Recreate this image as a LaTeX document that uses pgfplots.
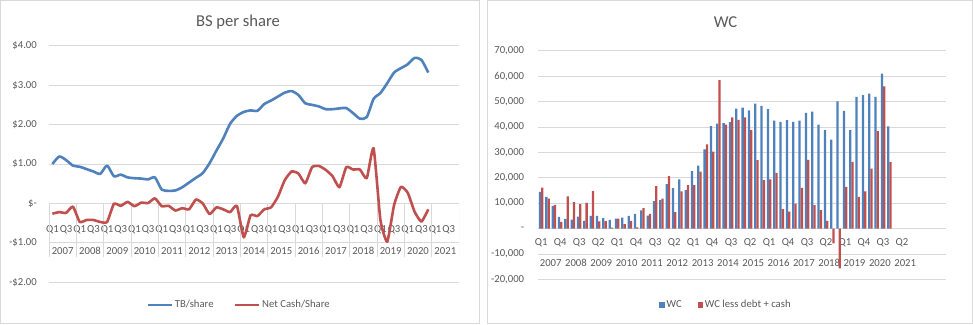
\documentclass[border=0pt]{standalone}
\usepackage{fontspec}
\setmainfont{Carlito}
\usepackage{pgfplots}
\usepackage{pgfplotstable}
\pgfplotsset{compat=1.18}
\definecolor{xblue}{HTML}{4F81BD}
\definecolor{xred}{HTML}{C0504D}
\definecolor{xgrid}{HTML}{D9D9D9}
\definecolor{xtext}{HTML}{595959}
\newcommand\tk{\fontsize{10.7bp}{12bp}\selectfont}

\pgfplotstableread{
i tb nc wc wcl
0 1.00 -0.26 14400 16100
1 1.19 -0.22 12500 11800
2 1.10 -0.24 8900 9300
3 0.96 -0.08 4600 2600
4 0.93 -0.47 3800 12600
5 0.87 -0.42 3500 10400
6 0.81 -0.42 4700 9600
7 0.75 -0.47 3000 10100
8 0.96 -0.47 5000 14700
9 0.69 -0.01 5000 2800
10 0.73 -0.06 4100 2900
11 0.66 0.04 3400 300
12 0.64 -0.07 3900 3900
13 0.63 0.02 4300 1700
14 0.61 0.01 5000 3000
15 0.66 0.13 5800 400
16 0.35 -0.07 7100 8000
17 0.32 -0.06 5100 5800
18 0.33 -0.18 10800 16700
19 0.41 -0.12 11200 11800
20 0.53 -0.15 17500 20600
21 0.65 0.10 15900 6400
22 0.77 0.00 19300 14600
23 1.02 -0.27 15100 17100
24 1.34 -0.10 22600 17100
25 1.65 -0.15 24800 22400
26 2.02 -0.22 31200 33100
27 2.22 -0.06 40300 30300
28 2.32 -0.86 41300 58400
29 2.36 -0.30 41500 40900
30 2.35 -0.32 41900 43800
31 2.52 -0.15 47200 42800
32 2.61 -0.10 47600 43800
33 2.71 0.17 46500 38700
34 2.81 0.59 49200 26900
35 2.85 0.81 48300 19000
36 2.75 0.76 47000 19300
37 2.54 0.51 42500 21900
38 2.50 0.92 42000 7600
39 2.46 0.95 42700 6600
40 2.39 0.85 42000 9800
41 2.39 0.69 42500 16000
42 2.41 0.41 45500 27000
43 2.42 0.92 46000 9200
44 2.29 0.86 40900 7200
45 2.15 0.86 38700 3000
46 2.19 0.64 35000 -5900
47 2.65 1.40 50100 -15700
48 2.80 -0.42 46300 16400
49 3.05 -0.97 38700 26200
50 3.32 -0.04 51800 12500
51 3.43 0.42 52500 14600
52 3.53 0.27 53100 23600
53 3.69 -0.21 51800 38300
54 3.64 -0.46 61000 56000
55 3.32 -0.15 40200 26100
}\data

\begin{document}
\begin{tikzpicture}[x=1bp,y=1bp]
\useasboundingbox (0,0) rectangle (973,324);
\draw[xgrid] (0.5,0.5) rectangle (479.5,323.5);
\draw[xgrid] (487.5,0.5) rectangle (972.5,323.5);
\node[anchor=base, text=xtext, font=\fontsize{16.6bp}{18bp}\selectfont] at (238,297.3) {BS per share};
\node[anchor=base, text=xtext, font=\fontsize{16.6bp}{18bp}\selectfont] at (725.5,296.7) {WC};

% ---------------- left chart ----------------
\begin{axis}[
  at={(49bp,41.7bp)}, anchor=south west, scale only axis,
  width=410bp, height=236.6bp,
  xmin=-0.5, xmax=59.5, ymin=-2, ymax=4,
  axis line style={draw=none}, major tick length=0pt,
  ytick={-2,-1,0,1,2,3,4},
  yticklabels={-\$2.00,-\$1.00,\$-\hspace{5bp},\$1.00,\$2.00,\$3.00,\$4.00},
  ymajorgrids, grid style={xgrid, line width=0.75bp},
  xtick={0,2,...,58},
  xticklabels={Q1,Q3,Q1,Q3,Q1,Q3,Q1,Q3,Q1,Q3,Q1,Q3,Q1,Q3,Q1,Q3,Q1,Q3,Q1,Q3,Q1,Q3,Q1,Q3,Q1,Q3,Q1,Q3,Q1,Q3},
  extra x ticks={1.5,5.5,...,57.5},
  extra x tick labels={2007,2008,2009,2010,2011,2012,2013,2014,2015,2016,2017,2018,2019,2020,2021},
  extra x tick style={grid=none, xticklabel style={yshift=-20.7bp}},
  tick label style={font=\tk, text=xtext, inner sep=0pt},
  xticklabel style={anchor=center, yshift=52.3bp},
  yticklabel style={anchor=east, xshift=-12bp},
  legend style={draw=none, fill=none, font=\tk, text=xtext,
    at={(0.4634,-0.096)}, anchor=center},
  legend columns=2,
  /tikz/every even column/.append style={column sep=18bp},
  legend image code/.code={\draw[#1] (0bp,0bp) -- (24bp,0bp);},
]
\pgfplotsinvokeforeach{-0.5,3.5,7.5,11.5,15.5,19.5,23.5,27.5,31.5,35.5,39.5,43.5,47.5,51.5,55.5,59.5}{
  \draw[xgrid, line width=0.75bp] (axis cs:#1,0) -- (axis cs:#1,-1.36);
}
\addplot[xblue, line width=2.6bp, line join=round, smooth, tension=0.4] table[x=i,y=tb] {\data};
\addlegendentry{TB/share}
\addplot[xred, line width=2.6bp, line join=round, smooth, tension=0.3] table[x=i,y=nc] {\data};
\addlegendentry{Net Cash/Share}
\end{axis}

% ---------------- right chart ----------------
\begin{axis}[
  at={(538bp,44.7bp)}, anchor=south west, scale only axis,
  width=408bp, height=228.6bp,
  xmin=-0.5, xmax=63.95, ymin=-20000, ymax=70000,
  ybar=0pt, bar width=0.36,
  axis line style={draw=none}, major tick length=0pt,
  scaled y ticks=false,
  ytick={-20000,-10000,0,10000,20000,30000,40000,50000,60000,70000},
  yticklabels={{-20,000},{-10,000},{-\hspace{4bp}},{10,000},{20,000},{30,000},{40,000},{50,000},{60,000},{70,000}},
  ymajorgrids, grid style={xgrid, line width=0.75bp},
  xtick={0,3,...,57},
  xticklabels={Q1,Q4,Q3,Q2,Q1,Q4,Q3,Q2,Q1,Q4,Q3,Q2,Q1,Q4,Q3,Q2,Q1,Q4,Q3,Q2},
  extra x ticks={1.5,5.5,...,57.5},
  extra x tick labels={2007,2008,2009,2010,2011,2012,2013,2014,2015,2016,2017,2018,2019,2020,2021},
  extra x tick style={grid=none, xticklabel style={yshift=-20bp}},
  tick label style={font=\tk, text=xtext, inner sep=0pt},
  xticklabel style={anchor=center, yshift=36.3bp},
  yticklabel style={anchor=east, xshift=-13.7bp},
  legend style={draw=none, fill=none, font=\tk, text=xtext,
    at={(0.4608,-0.1124)}, anchor=center},
  legend columns=2,
  /tikz/every even column/.append style={column sep=14bp},
]
\addplot[fill=xblue, draw=none,
  legend image code/.code={\fill[xblue] (0bp,-2.6bp) rectangle (5.2bp,2.6bp);}]
  table[x=i,y=wc] {\data};
\addlegendentry{WC}
\addplot[fill=xred, draw=none,
  legend image code/.code={\fill[xred] (0bp,-2.6bp) rectangle (5.2bp,2.6bp);}]
  table[x=i,y=wcl] {\data};
\addlegendentry{WC less debt + cash}
\end{axis}
\end{tikzpicture}
\end{document}
